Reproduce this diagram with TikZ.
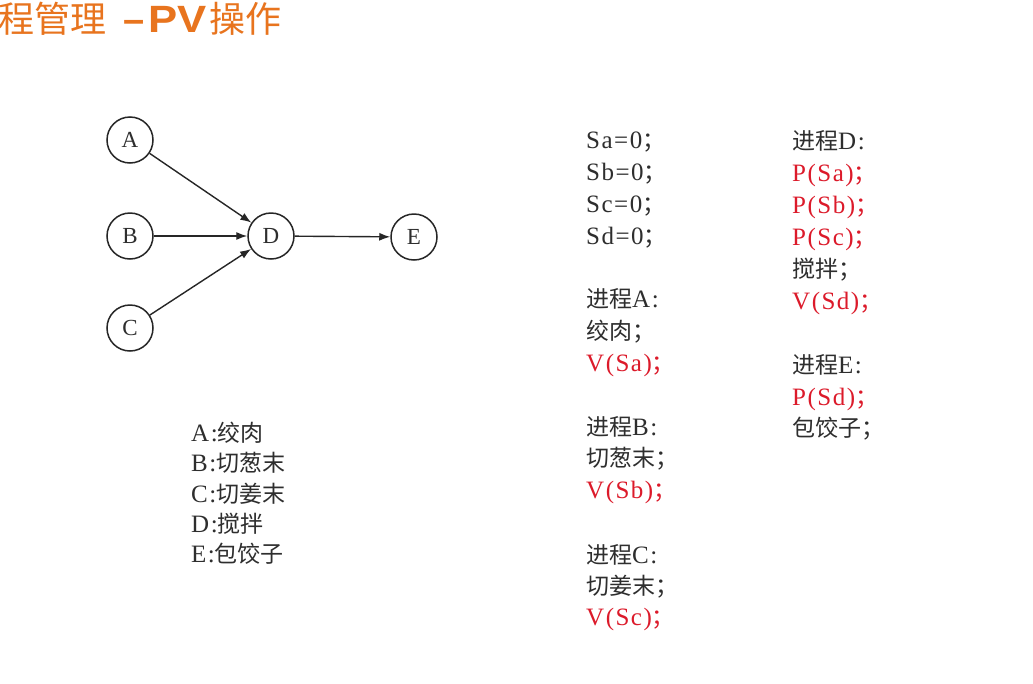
\documentclass[tikz,border=0pt]{standalone}
\usepackage{fontspec}
\usepackage{graphicx}
\setmainfont{Liberation Serif}
\newfontfamily\cjk{Noto Sans CJK SC}
\newfontfamily\lat[LetterSpace=6]{Liberation Serif}
\newfontfamily\titlefont{Liberation Sans}
\usetikzlibrary{arrows.meta}
\definecolor{txtgray}{HTML}{2E2E2E}
\definecolor{pvred}{HTML}{DC1A2A}
\definecolor{titleorange}{HTML}{E8741E}
\newcommand\mono[1]{{\lat\fontsize{25}{28}\selectfont #1}}
\begin{document}
\begin{tikzpicture}[x=1pt,y=-1pt,
  every node/.style={text=txtgray},
  circ/.style={draw=black!85, line width=1.5pt, circle, minimum size=46pt, inner sep=0pt, font=\fontsize{23}{26}\selectfont},
  arr/.style={line width=1.4pt, draw=black!85, -{Latex[length=11pt,width=8pt]}},
  txt/.style={anchor=base west, inner sep=0pt, font=\fontsize{23}{26}\selectfont},
  rtxt/.style={txt, text=pvred}]
\useasboundingbox (0,0) rectangle (1033,683);
\fill[white] (0,0) rectangle (1033,683);
% title
\node[anchor=base west, inner sep=0pt, text=titleorange] (title) at (-2,32)
  {\fontsize{36}{40}\selectfont{\cjk 程管理}\hspace{17pt}{\titlefont\bfseries\fontsize{38}{42}\selectfont –\hspace{4pt}\scalebox{1.15}[1]{PV}}\hspace{3pt}{\cjk 操作}};
% graph
\node[circ] (A) at (130,140) {A};
\node[circ] (B) at (130,236) {B};
\node[circ] (C) at (130,328) {C};
\node[circ] (D) at (271,236) {D};
\node[circ] (E) at (414,237) {E};
\draw[arr] (A) -- (D);
\draw[arr] (B) -- (D);
\draw[arr] (C) -- (D);
\draw[arr] (D) -- (E);
% legend
\node[txt] (la) at (191,441) {\mono{A:}{\cjk 绞肉}};
\node[txt] (lb) at (191,471) {\mono{B:}{\cjk 切葱末}};
\node[txt] (lc) at (191,502) {\mono{C:}{\cjk 切姜末}};
\node[txt] (ld) at (191,532) {\mono{D:}{\cjk 搅拌}};
\node[txt] (le) at (191,562) {\mono{E:}{\cjk 包饺子}};
% column 1
\node[txt] (s1) at (586,148) {\mono{Sa=0}{\cjk ；}};
\node[txt] (s2) at (586,180) {\mono{Sb=0}{\cjk ；}};
\node[txt] (s3) at (586,212) {\mono{Sc=0}{\cjk ；}};
\node[txt] (s4) at (586,244) {\mono{Sd=0}{\cjk ；}};
\node[txt] (pa) at (586,307) {{\cjk 进程}\mono{A:}};
\node[txt] (pa1) at (586,339) {{\cjk 绞肉；}};
\node[rtxt] (pa2) at (586,371) {\mono{V(Sa)}{\cjk ；}};
\node[txt] (pb) at (586,435) {{\cjk 进程}\mono{B:}};
\node[txt] (pb1) at (586,466) {{\cjk 切葱末；}};
\node[rtxt] (pb2) at (586,498) {\mono{V(Sb)}{\cjk ；}};
\node[txt] (pc) at (586,563) {{\cjk 进程}\mono{C:}};
\node[txt] (pc1) at (586,594) {{\cjk 切姜末；}};
\node[rtxt] (pc2) at (586,625) {\mono{V(Sc)}{\cjk ；}};
% column 2
\node[txt] (pd) at (792,149) {{\cjk 进程}\mono{D:}};
\node[rtxt] (pd1) at (792,181) {\mono{P(Sa)}{\cjk ；}};
\node[rtxt] (pd2) at (792,213) {\mono{P(Sb)}{\cjk ；}};
\node[rtxt] (pd3) at (792,245) {\mono{P(Sc)}{\cjk ；}};
\node[txt] (pd4) at (792,277) {{\cjk 搅拌；}};
\node[rtxt] (pd5) at (792,309) {\mono{V(Sd)}{\cjk ；}};
\node[txt] (pe) at (792,373) {{\cjk 进程}\mono{E:}};
\node[rtxt] (pe1) at (792,405) {\mono{P(Sd)}{\cjk ；}};
\node[txt] (pe2) at (792,436) {{\cjk 包饺子；}};
\end{tikzpicture}
\end{document}
